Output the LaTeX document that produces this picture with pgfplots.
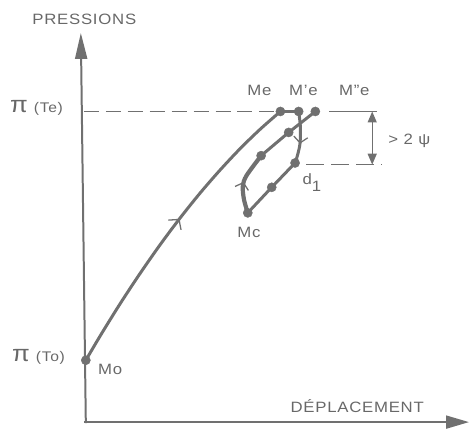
\documentclass[border=0pt]{standalone}
\usepackage{pgfplots}
\pgfplotsset{compat=1.18}
\usepackage{fontspec}
\setmainfont{Liberation Sans}[FakeStretch=1.12, LetterSpace=5]
\usetikzlibrary{arrows.meta,decorations.markings}
\definecolor{ink}{RGB}{112,112,112}
\definecolor{txt}{RGB}{104,104,104}
\tikzset{lab/.style={text=txt, inner sep=0pt, font=\fontsize{15}{15}\selectfont}}
\newcommand{\bigpi}{{\fontsize{23}{23}\selectfont π}}

\begin{document}
\begin{tikzpicture}
\begin{axis}[
    x=1pt, y=1pt,
    xmin=0, xmax=470, ymin=0, ymax=427,
    hide axis, clip=false,
]
\path (axis cs:0,0) rectangle (axis cs:470,427);

% axes
\addplot[ink, line width=2pt, -{Triangle[length=26pt,width=12pt]}] coordinates {(86,3) (81,394)};
\addplot[ink, line width=2pt, -{Triangle[length=23pt,width=13pt]}] coordinates {(84,4) (470,4)};

% reference levels
\addplot[ink, line width=1.6pt, dash pattern=on 15pt off 7pt] coordinates {(84,315.3) (281,315.3)};
\addplot[ink, line width=1.6pt] coordinates {(330,315.3) (378,315.3)};
\addplot[ink, line width=1.6pt, dash pattern=on 18pt off 7pt] coordinates {(307,262) (383,262)};
\addplot[ink, line width=1.4pt, {Triangle[length=11pt,width=9pt]}-{Triangle[length=11pt,width=9pt]}] coordinates {(373,315.3) (373,262)};

% loading path Mo -> Me
\addplot[ink, line width=3pt, smooth, postaction={decorate},
  decoration={markings, mark=at position 0.535 with {\arrow{Straight Barb[length=7pt,width=16pt,line width=1.3pt]}}}]
  coordinates {(86,66) (101,91.4) (121,123.6) (141,153.9) (161,182.5) (181,209.2)
               (201,234.1) (221,257.1) (241,278.4) (261,297.75) (281,315.3)};
\addplot[ink, line width=3pt] coordinates {(281,315.3) (299.3,315.3)};

% unloading M'e -> Mc
\addplot[ink, line width=3pt, smooth, postaction={decorate},
  decoration={markings, mark=at position 0.62 with {\arrow{Straight Barb[length=6pt,width=14pt,line width=1.3pt]}}}]
  coordinates {(299.3,315.3) (301,300.3) (300.7,283.7) (298.3,272) (295.7,263.7)};
\addplot[ink, line width=3pt] coordinates {(295.7,263.7) (272.3,239.3) (248.3,213.7)};

% reloading Mc -> M''e
\addplot[ink, line width=4.2pt, smooth, postaction={decorate},
  decoration={markings, mark=at position 0.5 with {\arrow{Straight Barb[length=6pt,width=14pt,line width=1.3pt]}}}]
  coordinates {(248.3,213.7) (244.5,227) (243.3,240.3) (247,251) (261.7,271)};
\addplot[ink, line width=3pt] coordinates {(261.7,271) (289.3,294.3) (316,315.3)};

% points
\addplot[only marks, mark=*, mark size=4.6pt, color=ink] coordinates {
  (86,66) (281,315.3) (299.3,315.3) (316,315.3) (289.3,294.3)
  (261.7,271) (295.7,263.7) (272.3,239.3) (248.3,213.7)};

% labels
\node[lab, anchor=base] at (axis cs:84.5,402) {PRESSIONS};
\node[lab, anchor=base] at (axis cs:358,14) {DÉPLACEMENT};
\node[lab, anchor=base west] at (axis cs:10,314) {\bigpi\hspace{6pt}{\fontsize{14}{14}\selectfont (Te)}};
\node[lab, anchor=base west] at (axis cs:12,65) {\bigpi\hspace{6pt}{\fontsize{14}{14}\selectfont (To)}};
\node[lab, anchor=base] at (axis cs:110.5,52) {Mo};
\node[lab, anchor=base] at (axis cs:260,331) {Me};
\node[lab, anchor=base] at (axis cs:304,331) {M'e};
\node[lab, anchor=base] at (axis cs:355,331) {M''e};
\node[lab, anchor=base] at (axis cs:249.5,189) {Mc};
\node[lab, anchor=base west] at (axis cs:303,242) {d\raisebox{-7pt}{1}};
\node[lab, anchor=base west] at (axis cs:389,282) {> 2 ψ};
\end{axis}
\end{tikzpicture}
\end{document}
